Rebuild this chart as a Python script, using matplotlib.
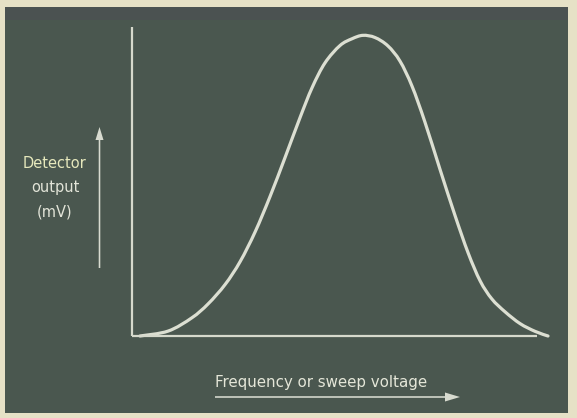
import matplotlib
matplotlib.use("Agg")
import matplotlib.pyplot as plt
from matplotlib.patches import Rectangle, FancyArrow, PathPatch
from matplotlib.path import Path

# Response curve (arbitrary units, 0-100)
freq = [1.9, 8.7, 14.4, 18.3, 22.4, 26.0, 29.6, 33.2, 36.8, 40.4, 43.3, 46.4,
        50.0, 52.9, 55.5, 58.4, 61.5, 64.4, 67.3, 70.4, 74.0, 77.6, 80.8,
        83.7, 86.5, 89.7, 93.3, 96.9, 100.0]
output = [0.0, 1.6, 5.9, 10.4, 16.7, 24.1, 33.7, 45.2, 57.8, 70.7, 80.4, 88.4,
          94.0, 96.2, 97.3, 96.6, 93.9, 89.0, 80.9, 69.3, 54.1, 39.2, 26.9,
          17.8, 12.0, 7.8, 4.0, 1.5, 0.0]

y_label_lines = ["Detector", "output", "(mV)"]
x_label = "Frequency or sweep voltage"

W, H = 577, 418
fig = plt.figure(figsize=(W / 100, H / 100), dpi=100)
fig.patch.set_facecolor("#e6e1c6")

# board background
bg = fig.add_axes([0, 0, 1, 1])
bg.set_xlim(0, W)
bg.set_ylim(H, 0)
bg.axis("off")
bg.add_patch(Rectangle((5, 7), 563, 406, facecolor="#4a574f", edgecolor="none"))
bg.add_patch(Rectangle((5, 7), 563, 13, facecolor="#4c5053", edgecolor="none", alpha=0.7))

# main plot axes
left_px, right_px, top_px, bottom_px = 132, 548, 27, 336
ax = fig.add_axes([left_px / W, 1 - bottom_px / H,
                   (right_px - left_px) / W, (bottom_px - top_px) / H])
ax.set_xlim(0, 100)
ax.set_ylim(0, 100)
ax.patch.set_alpha(0)
for s in ax.spines.values():
    s.set_visible(False)
ax.set_xticks([])
ax.set_yticks([])

axis_col = "#d6d9cc"
ax.plot([0, 0], [0, 100], color=axis_col, lw=1.6, solid_capstyle="butt", clip_on=False)
ax.plot([0, 97.4], [0, 0], color=axis_col, lw=1.6, solid_capstyle="butt", clip_on=False)

# smooth curve through the read points (Catmull-Rom -> cubic Bezier)
pts = list(zip(freq, output))
verts = [pts[0]]
codes = [Path.MOVETO]
n = len(pts)
for i in range(n - 1):
    p0 = pts[i - 1] if i > 0 else pts[i]
    p1 = pts[i]
    p2 = pts[i + 1]
    p3 = pts[i + 2] if i + 2 < n else pts[i + 1]
    c1 = (p1[0] + (p2[0] - p0[0]) / 6, p1[1] + (p2[1] - p0[1]) / 6)
    c2 = (p2[0] - (p3[0] - p1[0]) / 6, p2[1] - (p3[1] - p1[1]) / 6)
    verts += [c1, c2, p2]
    codes += [Path.CURVE4] * 3
curve = PathPatch(Path(verts, codes), facecolor="none", edgecolor="#dcdfd2",
                  lw=2.3, capstyle="round", joinstyle="round", clip_on=False)
ax.add_patch(curve)

# y label and arrow
label_cols = ["#e6e8bc", "#e2e4d8", "#e2e4d8"]
for k, (txt, c) in enumerate(zip(y_label_lines, label_cols)):
    bg.text(55, 163 + 24.5 * k, txt, ha="center", va="center", color=c,
            fontsize=10.5, fontfamily="DejaVu Sans")
bg.add_patch(FancyArrow(99.5, 268, 0, -141, width=1.6, head_width=8,
                        head_length=13, length_includes_head=True,
                        facecolor="#d8dbd0", edgecolor="none"))

# x label and arrow
bg.text(321, 382, x_label, ha="center", va="center", color="#e4e6d8",
        fontsize=10.8, fontfamily="DejaVu Sans")
bg.add_patch(FancyArrow(215, 397, 245, 0, width=1.6, head_width=9,
                        head_length=15, length_includes_head=True,
                        facecolor="#d8dbd0", edgecolor="none"))

fig.savefig("out.png", dpi=100, facecolor=fig.get_facecolor())
